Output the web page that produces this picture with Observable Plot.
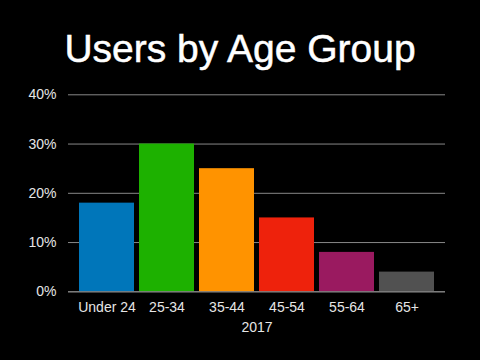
<!DOCTYPE html>
<html>
<head>
<meta charset="utf-8">
<script src="https://cdn.jsdelivr.net/npm/d3@7"></script>
<script src="https://cdn.jsdelivr.net/npm/@observablehq/plot@0.6"></script>
<style>
  html, body { margin: 0; padding: 0; background: #000; width: 480px; height: 360px; overflow: hidden; }
  body { font-family: "Liberation Sans", Arial, Helvetica, sans-serif; }
  #title { height: 80px; color: #fff; font-size: 39px; text-align: center; line-height: 1; padding-top: 29px; box-sizing: border-box; margin: 0; font-weight: normal; -webkit-text-stroke: 0.5px #fff; }
  #chart svg { display: block; }
</style>
</head>
<body>
<h1 id="title">Users by Age Group</h1>
<div id="chart"></div>
<script>
const categories = ["Under 24", "25-34", "35-44", "45-54", "55-64", "65+"];
const values = [0.18, 0.30, 0.25, 0.15, 0.08, 0.04];
const colors = ["#0076BA", "#1DB100", "#FF9300", "#EE220C", "#9A1A60", "#515151"];
const yTicks = [0, 0.1, 0.2, 0.3, 0.4];
const xLabel = "2017";

const data = categories.map((c, i) => ({ category: c, value: values[i], color: colors[i] }));

const chart = Plot.plot({
  width: 480,
  height: 280,
  marginTop: 14.3,
  marginBottom: 68.7,
  marginLeft: 68,
  marginRight: 35,
  style: { background: "#000", color: "#e6e6e6", fontSize: "14px", fontFamily: "'Liberation Sans', Arial, Helvetica, sans-serif" },
  x: { domain: categories, paddingInner: 5 / 60, paddingOuter: 0.1833, label: null },
  y: { domain: [0, 0.4] },
  marks: [
    Plot.gridY(yTicks, { stroke: "#888", strokeOpacity: 1, strokeWidth: 1 }),
    Plot.barY(data, { x: "category", y: "value", fill: "color" }),
    Plot.ruleY([0], { stroke: "#888", strokeWidth: 1 }),
    Plot.axisY({ ticks: yTicks, tickSize: 0, tickPadding: 12, tickFormat: d => Math.round(d * 100) + "%", label: null, fill: "#e6e6e6", fontSize: 14 }),
    Plot.axisX({ tickSize: 0, tickPadding: 10, label: null, fill: "#e6e6e6", fontSize: 14 }),
    Plot.text([xLabel], { frameAnchor: "bottom", dy: 40, text: d => d, fill: "#e6e6e6", fontSize: 14 })
  ]
});
document.getElementById("chart").appendChild(chart);
</script>
</body>
</html>
